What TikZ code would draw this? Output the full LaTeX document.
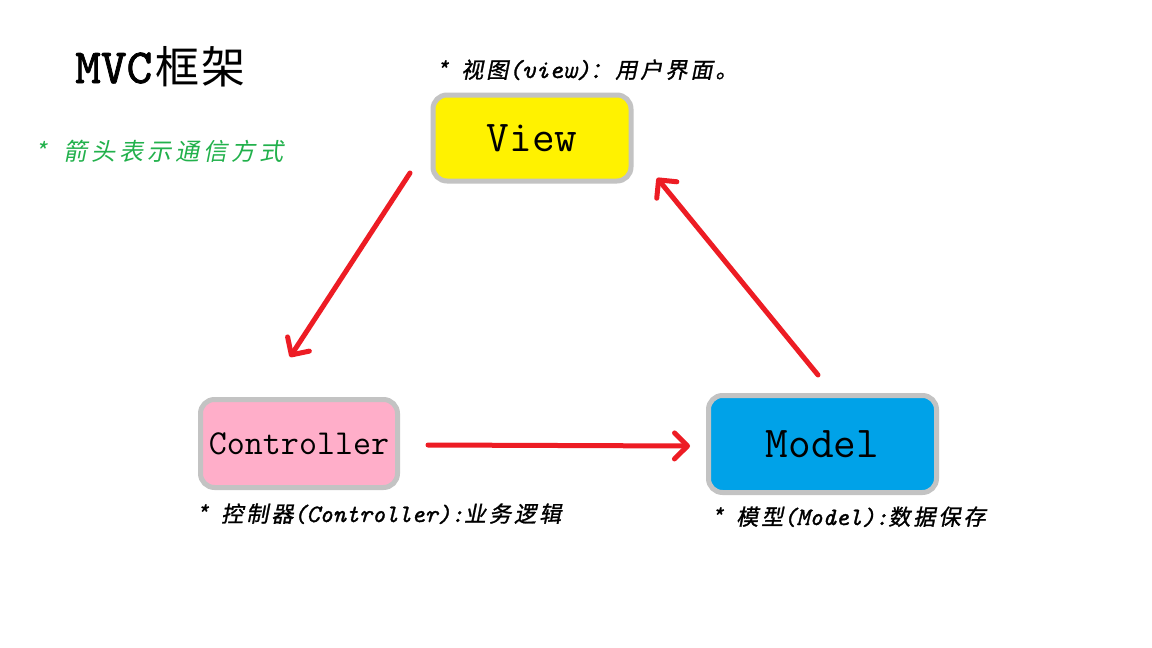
\documentclass[tikz,border=0pt]{standalone}
\usepackage{fontspec}
\usetikzlibrary{arrows.meta}
\newfontfamily\cjk{Noto Sans CJK SC}
\newfontfamily\cjki[FakeSlant=0.2,FakeBold=1.2,LetterSpace=14]{Noto Sans CJK SC}
\newfontfamily\cjkg[FakeSlant=0.2,LetterSpace=17]{Noto Sans CJK SC}
\newfontfamily\latif[FakeBold=1.2]{lmmono10-italic.otf}
\newfontfamily\titlef[FakeBold=1.5]{lmmono10-regular.otf}
\definecolor{boxgray}{HTML}{C3C3C3}
\definecolor{viewyellow}{HTML}{FFF200}
\definecolor{ctrlpink}{HTML}{FFAEC9}
\definecolor{modelblue}{HTML}{00A2E8}
\definecolor{arrred}{HTML}{ED1C24}
\definecolor{notegreen}{HTML}{22B14C}
\newcommand\lat[2][25]{{\latif\fontsize{#1}{28}\selectfont #2}}
\newcommand\stargap{\makebox[24pt][l]{*}}
\begin{document}
\begin{tikzpicture}[x=1pt,y=-1pt,
  box/.style={draw=boxgray,line width=5pt,rounded corners=14pt,inner sep=0pt,
    font=\ttfamily\fontsize{44}{48}\selectfont},
  arr/.style={draw=arrred,line width=5pt,line cap=round,
    -{Straight Barb[length=13pt,width=26pt,round]}},
  txtanchor/.style={anchor=base west,inner sep=0pt},
  capfont/.style={font=\cjki\fontsize{22}{24}\selectfont}]
\useasboundingbox (0,0) rectangle (1152,648);
\fill[white] (0,0) rectangle (1152,648);

\node[txtanchor] (title) at (75,83) {\titlef\fontsize{49}{52}\selectfont MVC\cjk\fontsize{44}{48}\selectfont\hspace{3pt}框\hspace{2pt}架};
\node[txtanchor,text=notegreen,font=\cjkg\fontsize{24}{26}\selectfont] (note) at (35,160) {\makebox[28pt][l]{*}箭头表示通信方式};

\node[box,fill=viewyellow,minimum width=198pt,minimum height=86pt] (view) at (532,138) {View};
\node[box,fill=ctrlpink,minimum width=197pt,minimum height=88pt,font=\ttfamily\fontsize{35}{38}\selectfont] (ctrl) at (299,443.5) {Controller};
\node[box,fill=modelblue,minimum width=228pt,minimum height=97pt] (model) at (822.5,444) {Model};

\node[txtanchor,capfont] (vcap) at (437,78) {\stargap 视图\lat[26]{(view)}：用户界面。};
\node[txtanchor,capfont] (ccap) at (197,522) {\stargap 控制器\lat{(Controller):}业务逻辑};
\node[txtanchor,capfont] (mcap) at (712,525) {\stargap 模型\lat{(Model):}数据保存};

\coordinate (a1s) at (410,173);
\coordinate (a1e) at (290,357);
\coordinate (a2s) at (428,445);
\coordinate (a2e) at (690,446);
\coordinate (a3s) at (818,375);
\coordinate (a3e) at (657,178);
\draw[arr] (a1s) -- (a1e);
\draw[arr] (a2s) -- (a2e);
\draw[arr] (a3s) -- (a3e);
\end{tikzpicture}
\end{document}
